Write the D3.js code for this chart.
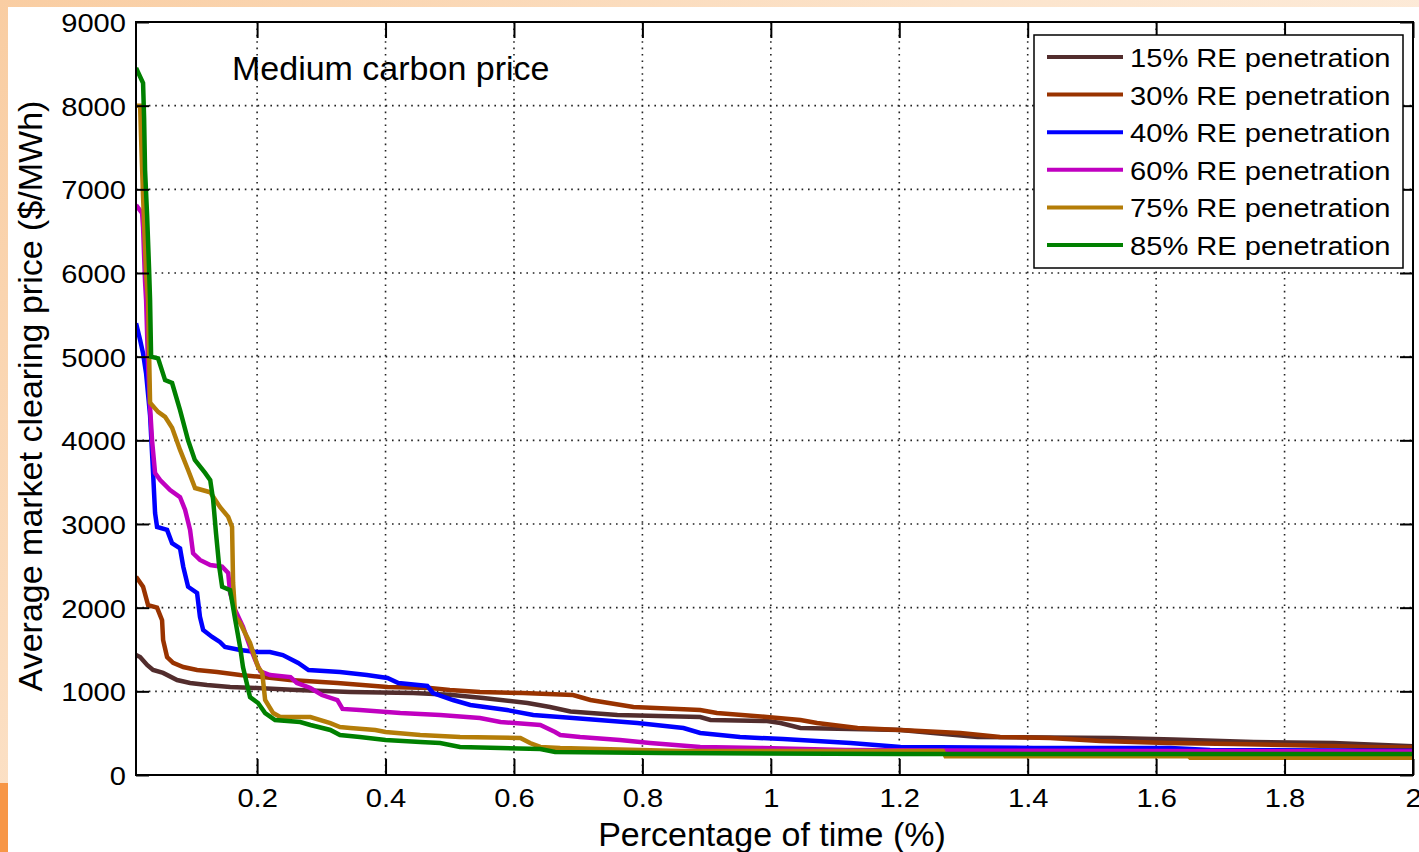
<!DOCTYPE html>
<html>
<head>
<meta charset="utf-8">
<script src="https://cdn.jsdelivr.net/npm/d3@7"></script>
<style>
  html, body { margin: 0; padding: 0; background: #fff; }
  svg { display: block; }
  text { font-family: "Liberation Sans", Arial, Helvetica, sans-serif; fill: #000; }
</style>
</head>
<body>
<svg id="chart" width="1419" height="852"></svg>
<script>
// ---------------- DATA ----------------
const seriesLabels = ["15% RE penetration", "30% RE penetration", "40% RE penetration",
                      "60% RE penetration", "75% RE penetration", "85% RE penetration"];
const seriesColors = ["#522D2D", "#993300", "#0000FF", "#C000C0", "#B47D08", "#008000"];
const xTickValues = [0.2, 0.4, 0.6, 0.8, 1, 1.2, 1.4, 1.6, 1.8, 2];
const yTickValues = [0, 1000, 2000, 3000, 4000, 5000, 6000, 7000, 8000, 9000];
const titleText = "Medium carbon price";
const xTitle = "Percentage of time (%)";
const yTitle = "Average market clearing price ($/MWh)";

// [percentage of time, price]
const re15 = [[0.0115,1434],[0.0178,1410],[0.0287,1315],[0.038,1255],[0.0536,1220],[0.0754,1135],
  [0.0956,1100],[0.122,1076],[0.158,1052],[0.2,1040],[0.262,1016],[0.345,992],[0.443,980],[0.5,960],
  [0.552,920],[0.621,860],[0.656,813],[0.688,760],[0.761,717],[0.89,693],[0.906,657],[0.994,645],
  [1.015,621],[1.046,562],[1.202,538],[1.253,502],[1.322,454],[1.534,442],[1.627,425],[1.752,394],
  [1.876,382],[2.0,345]];
const re30 = [[0.0115,2370],[0.0224,2250],[0.0302,2030],[0.0442,2000],[0.052,1850],[0.0536,1614],
  [0.0598,1410],[0.0692,1340],[0.085,1290],[0.1065,1255],[0.1377,1230],[0.1735,1195],[0.209,1170],
  [0.251,1135],[0.325,1100],[0.403,1052],[0.469,1040],[0.5,1016],[0.547,992],[0.614,980],[0.692,956],
  [0.719,896],[0.786,813],[0.89,777],[0.916,741],[0.994,693],[1.046,657],[1.072,621],[1.135,562],
  [1.202,538],[1.295,502],[1.357,454],[1.435,442],[1.513,406],[1.617,382],[1.72,370],[1.876,347],
  [1.929,335],[2.0,330]];
const re40 = [[0.0115,5400],[0.0178,5200],[0.0224,5040],[0.0271,4800],[0.0333,4300],[0.038,3610],
  [0.0411,3130],[0.0442,2965],[0.0598,2930],[0.0676,2770],[0.08,2710],[0.085,2490],[0.0925,2250],
  [0.1065,2175],[0.111,1890],[0.116,1733],[0.13,1650],[0.142,1590],[0.15,1530],[0.1735,1494],
  [0.2,1470],[0.22,1470],[0.24,1434],[0.264,1339],[0.28,1255],[0.329,1230],[0.371,1195],[0.403,1160],
  [0.42,1100],[0.465,1064],[0.474,980],[0.505,896],[0.532,837],[0.589,777],[0.63,717],[0.692,681],
  [0.792,621],[0.864,562],[0.89,502],[0.952,454],[1.019,430],[1.124,382],[1.202,335],[1.409,323],
  [1.622,323],[1.684,299],[2.0,290]];
const re60 = [[0.0115,6810],[0.0209,6715],[0.0224,6550],[0.0255,5900],[0.0271,5680],[0.0302,4900],
  [0.0333,4400],[0.0364,4000],[0.0411,3610],[0.049,3525],[0.0645,3406],[0.08,3320],[0.0878,3170],
  [0.0956,2930],[0.1003,2650],[0.111,2570],[0.127,2510],[0.1455,2490],[0.155,2415],[0.158,2175],
  [0.166,1970],[0.178,1770],[0.189,1530],[0.197,1375],[0.205,1240],[0.22,1195],[0.252,1170],
  [0.262,1100],[0.283,1040],[0.301,956],[0.325,896],[0.333,790],[0.36,777],[0.423,741],[0.485,717],
  [0.547,681],[0.579,633],[0.641,598],[0.664,514],[0.672,478],[0.703,454],[0.765,418],[0.812,382],
  [0.89,335],[0.983,323],[1.116,299],[1.357,290],[2.0,280]];
const re75 = [[0.0115,8000],[0.0178,8000],[0.0193,7620],[0.0224,6910],[0.0271,6000],[0.0302,5680],
  [0.0333,4450],[0.0458,4340],[0.0567,4280],[0.0676,4150],[0.08,3885],[0.0925,3645],[0.1034,3430],
  [0.127,3380],[0.1346,3290],[0.1424,3200],[0.155,3085],[0.161,2965],[0.1626,2295],[0.166,1890],
  [0.1735,1817],[0.181,1700],[0.189,1578],[0.2015,1290],[0.208,1220],[0.2125,896],[0.225,740],
  [0.236,693],[0.283,693],[0.314,621],[0.329,574],[0.345,562],[0.384,538],[0.4,514],[0.454,478],
  [0.516,454],[0.61,442],[0.625,382],[0.641,335],[0.672,323],[0.734,310],[0.859,287],[1.268,287],
  [1.272,225],[1.65,225],[1.653,205],[2.0,205]];
const re85 = [[0.0115,8450],[0.0224,8270],[0.024,7860],[0.0255,7230],[0.0287,6690],[0.0318,6035],
  [0.0333,5680],[0.0349,5000],[0.0458,4980],[0.0567,4720],[0.0676,4685],[0.08,4360],[0.0925,4000],
  [0.103,3765],[0.119,3610],[0.127,3525],[0.1315,3290],[0.136,2890],[0.141,2490],[0.1455,2250],
  [0.158,2210],[0.166,1850],[0.1735,1530],[0.178,1290],[0.189,930],[0.2015,860],[0.2125,740],
  [0.228,657],[0.267,633],[0.283,598],[0.314,538],[0.329,478],[0.36,454],[0.4,418],[0.454,394],
  [0.485,382],[0.516,335],[0.579,323],[0.641,310],[0.664,275],[0.832,262],[1.2,250],[2.0,250]];
const seriesData = [re15, re30, re40, re60, re75, re85];

// ---------------- LAYOUT ----------------
const W = 1419, H = 852;
const plot = { left: 136, right: 1413, top: 22, bottom: 775 };
const svg = d3.select("#chart");

// page background (slide look)
const defs = svg.append("defs");
const grad = defs.append("linearGradient").attr("id", "bg").attr("x1", "0").attr("y1", "0").attr("x2", "1").attr("y2", "0.6");
grad.append("stop").attr("offset", "0").attr("stop-color", "#F9CDA2");
grad.append("stop").attr("offset", "0.5").attr("stop-color", "#FCE4CC");
grad.append("stop").attr("offset", "1").attr("stop-color", "#FDF0E3");
svg.append("rect").attr("width", W).attr("height", H).attr("fill", "url(#bg)");
svg.append("rect").attr("x", 8).attr("y", 7).attr("width", W - 8).attr("height", H - 7).attr("fill", "#fff");
svg.append("rect").attr("x", 0).attr("y", 783).attr("width", 8).attr("height", H - 783).attr("fill", "#F79646");

defs.append("clipPath").attr("id", "clip").append("rect")
  .attr("x", plot.left).attr("y", plot.top).attr("width", plot.right - plot.left).attr("height", plot.bottom - plot.top);

const x = d3.scaleLinear().domain([0.0114, 2]).range([plot.left, plot.right]);
const y = d3.scaleLinear().domain([0, 9000]).range([plot.bottom, plot.top]);

// grid
const grid = svg.append("g").attr("stroke", "#222").attr("stroke-width", 1.6).attr("stroke-dasharray", "1.6,4.8");
grid.selectAll("line.gx").data(xTickValues.filter(v => v < 2)).join("line")
  .attr("x1", d => x(d)).attr("x2", d => x(d)).attr("y1", plot.top).attr("y2", plot.bottom);
grid.selectAll("line.gy").data(yTickValues.filter(v => v > 0 && v < 9000)).join("line")
  .attr("y1", d => y(d)).attr("y2", d => y(d)).attr("x1", plot.left).attr("x2", plot.right);

// lines
const line = d3.line().x(d => x(d[0])).y(d => y(d[1]));
const lines = svg.append("g").attr("clip-path", "url(#clip)");
seriesData.forEach((s, i) => {
  lines.append("path").datum(s).attr("d", line).attr("fill", "none")
    .attr("stroke", seriesColors[i]).attr("stroke-width", 4.5).attr("stroke-linejoin", "miter");
});

// axes (MATLAB-style, inward ticks on all sides)
const tickX = 16, tickY = 13;
const axB = svg.append("g").attr("transform", `translate(0,${plot.bottom})`)
  .call(d3.axisBottom(x).tickValues(xTickValues).tickSize(-tickX).tickFormat(d3.format("~g")));
const axT = svg.append("g").attr("transform", `translate(0,${plot.top})`)
  .call(d3.axisTop(x).tickValues(xTickValues).tickSize(-tickX).tickFormat(""));
const axL = svg.append("g").attr("transform", `translate(${plot.left},0)`)
  .call(d3.axisLeft(y).tickValues(yTickValues).tickSize(-tickY).tickFormat(d3.format("d")));
const axR = svg.append("g").attr("transform", `translate(${plot.right},0)`)
  .call(d3.axisRight(y).tickValues(yTickValues).tickSize(-tickY).tickFormat(""));
[axB, axT, axL, axR].forEach(a => {
  a.select(".domain").remove();
  a.selectAll(".tick line").attr("stroke", "#000").attr("stroke-width", 2);
});
axB.selectAll(".tick text").attr("y", null).attr("dy", null)
  .attr("font-size", 26).attr("text-anchor", "middle")
  .attr("transform", "translate(0,32) scale(1.12,1)");
axL.selectAll(".tick text").attr("x", null).attr("dy", null)
  .attr("font-size", 26).attr("text-anchor", "end")
  .attr("transform", "translate(-10,9.5) scale(1.12,1)");

// frame
svg.append("rect").attr("x", plot.left).attr("y", plot.top)
  .attr("width", plot.right - plot.left).attr("height", plot.bottom - plot.top)
  .attr("fill", "none").attr("stroke", "#000").attr("stroke-width", 2);

// titles
svg.append("text").attr("x", 232).attr("y", 80).attr("font-size", 34).text(titleText);
svg.append("text").attr("x", 772).attr("y", 846).attr("font-size", 34).attr("text-anchor", "middle").text(xTitle);
svg.append("text").attr("transform", "translate(42,396) rotate(-90)")
  .attr("font-size", 34).attr("text-anchor", "middle").text(yTitle);

// legend
const lg = { x: 1034, y: 35, w: 369, h: 233 };
svg.append("rect").attr("x", lg.x).attr("y", lg.y).attr("width", lg.w).attr("height", lg.h)
  .attr("fill", "#fff").attr("stroke", "#000").attr("stroke-width", 1.5);
const rowY = d3.scaleLinear().domain([0, 5]).range([57, 245]);
seriesLabels.forEach((lab, i) => {
  const ry = rowY(i);
  svg.append("line").attr("x1", 1047).attr("x2", 1123).attr("y1", ry).attr("y2", ry)
    .attr("stroke", seriesColors[i]).attr("stroke-width", 4);
  svg.append("text").attr("transform", `translate(1130,${ry + 10}) scale(1.12,1)`)
    .attr("font-size", 26).text(lab);
});
</script>
</body>
</html>
